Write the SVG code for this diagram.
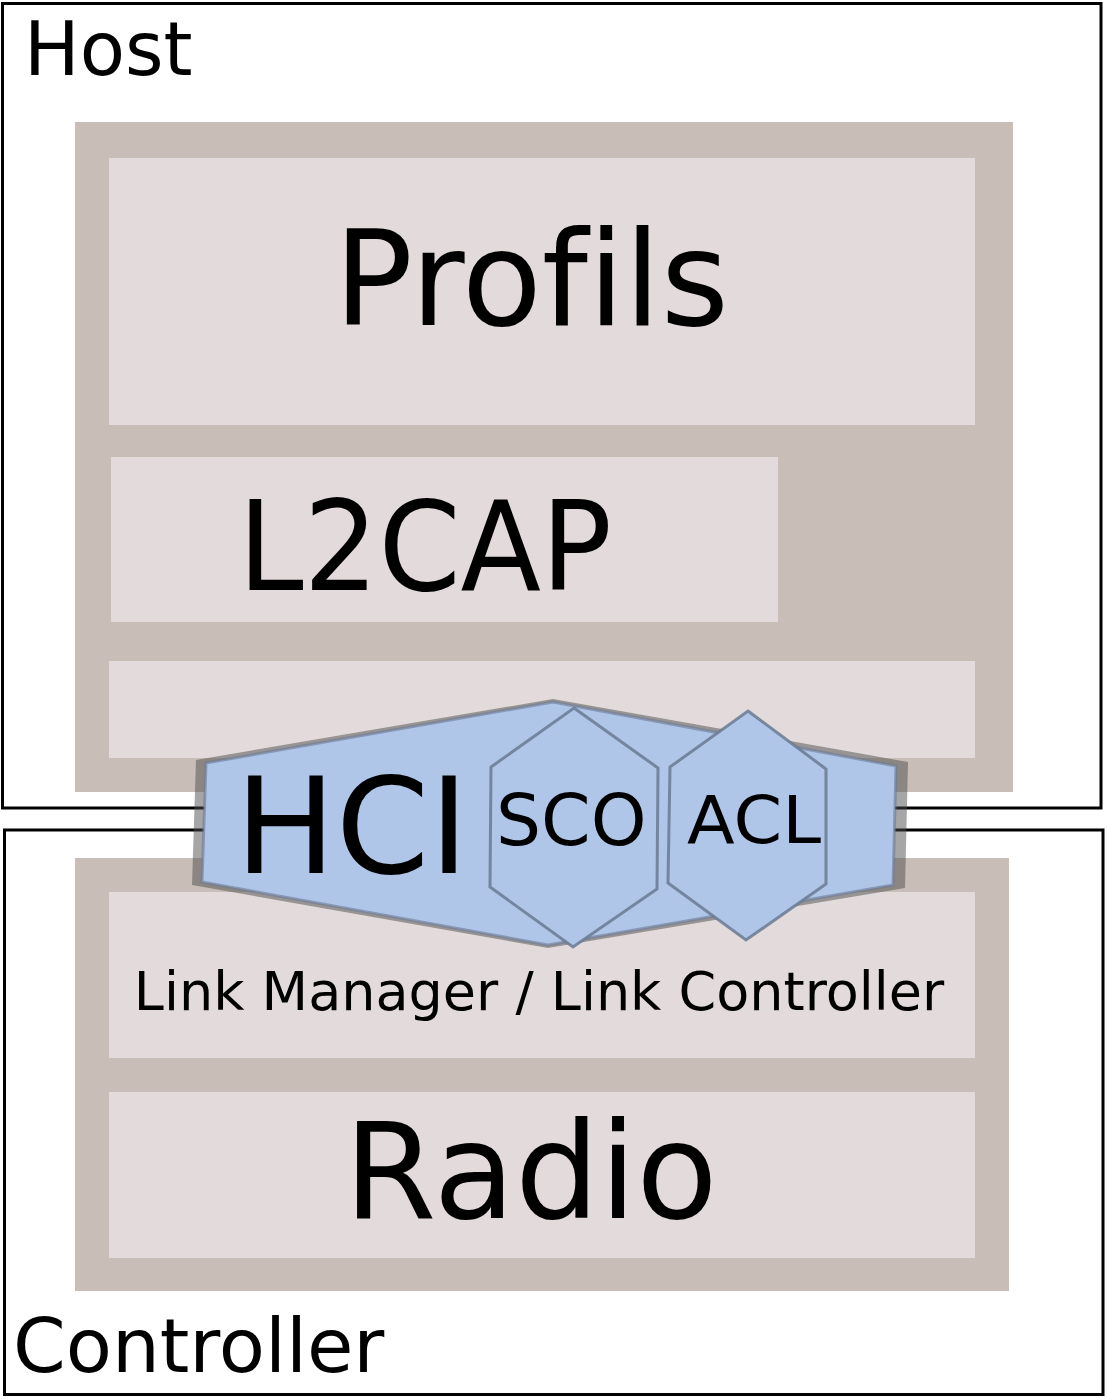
<svg xmlns="http://www.w3.org/2000/svg" width="1108" height="1400" viewBox="0 0 1108 1400">
<style>
.frame{fill:#ffffff;stroke:#000000;stroke-width:3}
.panel{fill:#c8beb7}
.layer{fill:#e3dbdb}
.t{font-family:"DejaVu Sans","Liberation Sans",sans-serif;fill:#000000;font-variant-ligatures:none}
.hex{fill:#afc6e9;stroke:#6a7a92;stroke-width:3;stroke-opacity:0.85}
</style>
<rect width="1108" height="1400" fill="#ffffff"/>
<g id="host">
<rect class="frame" x="2.5" y="3.5" width="1098.5" height="804.5"/>
<text class="t" x="24" y="75" font-size="74">Host</text>
<rect class="panel" x="75" y="122" width="938" height="670"/>
</g>
<g id="controller">
<rect class="frame" x="4.5" y="830" width="1098.5" height="564.5"/>
<text class="t" x="13" y="1372" font-size="75.5">Controller</text>
<rect class="panel" x="75" y="858" width="934" height="433"/>
</g>
<g id="profils">
<rect class="layer" x="109" y="158" width="866" height="267"/>
<text class="t" x="334" y="325" font-size="131">Profils</text>
</g>
<g id="l2cap">
<rect class="layer" x="111" y="457" width="667" height="165"/>
<text class="t" x="238" y="590" font-size="124" textLength="374" lengthAdjust="spacingAndGlyphs">L2CAP</text>
</g>
<g id="hci-layer">
<rect class="layer" x="109" y="661" width="866" height="97"/>
</g>
<g id="link-manager">
<rect class="layer" x="109" y="892" width="866" height="166"/>
<text class="t" x="539" y="1010" font-size="54" text-anchor="middle">Link Manager / Link Controller</text>
</g>
<g id="radio">
<rect class="layer" x="109" y="1092" width="866" height="166"/>
<text class="t" x="344" y="1218" font-size="133">Radio</text>
</g>
<g id="connectors"></g>
<g id="hci">
<polygon points="196,760 553,699 908,762 905,888 548,948 192,885" fill="#4d4d4d" fill-opacity="0.5"/>
<polygon points="206,763 553,702 896,766 893,885 548,945 202,882" fill="#afc6e9" stroke="#6a7a92" stroke-width="3" stroke-opacity="0.6"/>
<text class="t" x="235" y="873" font-size="134">HCI</text>
</g>
<g id="sco">
<polygon class="hex" points="574,708 658,768 657,889 573,947 490,887 491,767"/>
<text class="t" x="496" y="845" font-size="71">SCO</text>
</g>
<g id="acl">
<polygon class="hex" points="748,711 826,769 826,884 746,940 668,883 670,767"/>
<text class="t" x="687" y="843" font-size="65" textLength="134" lengthAdjust="spacingAndGlyphs">ACL</text>
</g>
</svg>
